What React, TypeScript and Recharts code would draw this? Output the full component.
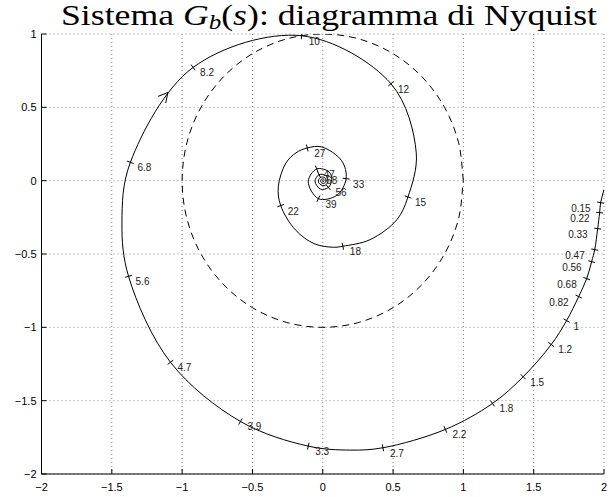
import React from 'react';
import { ComposedChart, Line, Scatter, XAxis, YAxis, CartesianGrid } from 'recharts';

const W = 613;
const H = 497;

// Nyquist curve of G_b(s), from low to high frequency
const curveRe = [
  2.0, 1.976, 1.969, 1.955, 1.934, 1.912, 1.877, 1.82, 1.734, 1.625,
  1.425, 1.207, 0.872, 0.428, 0.195, -0.103, -0.585, -1.083, -1.381, -1.428,
  -1.368, -0.922, -0.15, 0.485, 0.665, 0.606, 0.527, 0.337, 0.143, 0.076,
  -0.06, -0.195, -0.299, -0.316, -0.262, -0.19, -0.11, -0.007, 0.135, 0.166,
  0.1, -0.031, -0.103, -0.043, 0.045, 0.064, 0.04, -0.015, -0.055, -0.026,
  0.02, 0.038, 0.01, -0.03, -0.018, 0.015, 0.022, 0.0, -0.016, -0.005,
  0.01, 0.005, -0.003, 0.0,
];
const curveIm = [
  -0.06, -0.15, -0.218, -0.327, -0.47, -0.552, -0.668, -0.79, -0.954, -1.117,
  -1.337, -1.519, -1.696, -1.821, -1.837, -1.81, -1.642, -1.238, -0.652, -0.288,
  0.125, 0.772, 0.988, 0.661, 0.189, -0.111, -0.266, -0.402, -0.447, -0.454,
  -0.43, -0.335, -0.17, -0.039, 0.12, 0.19, 0.223, 0.23, 0.135, 0.014,
  -0.1, -0.123, -0.005, 0.08, 0.06, 0.007, -0.046, -0.058, -0.005, 0.041,
  0.035, -0.005, -0.035, -0.012, 0.022, 0.02, -0.008, -0.02, -0.002, 0.012,
  0.006, -0.006, -0.002, 0.0,
];
// frequency labels (rad/s) at the marked points, '' = no mark
const curveW = [
  '', '0.15', '0.22', '0.33', '0.47', '0.56', '0.68', '0.82', '1', '1.2',
  '1.5', '1.8', '2.2', '2.7', '', '3.3', '3.9', '4.7', '5.6', '',
  '6.8', '8.2', '10', '12', '', '15', '', '', '18', '',
  '', '', '22', '', '', '', '27', '', '', '33',
  '', '39', '', '47', '', '', '56', '', '', '68',
  '', '', '', '', '', '', '', '', '', '',
  '', '', '', '',
];
// direction arrow sits on the curve between 6.8 and 8.2
const arrowAt = [{ x: -1.112, y: 0.586 }];

// unit circle
const circleRe = [1, 0.966, 0.866, 0.707, 0.5, 0.259, 0, -0.259, -0.5, -0.707, -0.866, -0.966, -1,
  -0.966, -0.866, -0.707, -0.5, -0.259, 0, 0.259, 0.5, 0.707, 0.866, 0.966, 1];
const circleIm = [0, 0.259, 0.5, 0.707, 0.866, 0.966, 1, 0.966, 0.866, 0.707, 0.5, 0.259, 0,
  -0.259, -0.5, -0.707, -0.866, -0.966, -1, -0.966, -0.866, -0.707, -0.5, -0.259, 0];

const xTicks = [-2, -1.5, -1, -0.5, 0, 0.5, 1, 1.5, 2];
const yTicks = [-2, -1.5, -1, -0.5, 0, 0.5, 1];

const curve = curveRe.map((x, i) => ({ x, y: curveIm[i] }));
const circle = circleRe.map((x, i) => ({ x, y: circleIm[i] }));

// approx px per unit, only used to orient the little marks
const PX = 140.6;
const PY = 146.7;
const marks = curve
  .map((p, i) => {
    const a = curve[i - 1] || p;
    const b = curve[i + 1] || p;
    const ax = (p.x - a.x) * PX, ay = -(p.y - a.y) * PY;
    const bx = (b.x - p.x) * PX, by = -(b.y - p.y) * PY;
    const la = Math.hypot(ax, ay) || 1, lb = Math.hypot(bx, by) || 1;
    const dx = ax / la + bx / lb, dy = ay / la + by / lb;
    const len = Math.hypot(dx, dy) || 1;
    return { ...p, w: curveW[i], nx: -dy / len, ny: dx / len };
  })
  .filter((p) => p.w);

// centripetal Catmull-Rom, so the spiral passes smoothly through the read points
function catmullRom(context: any) {
  let pts: number[][] = [];
  return {
    areaStart() {},
    areaEnd() {},
    lineStart() {
      pts = [];
    },
    point(x: number, y: number) {
      pts.push([+x, +y]);
    },
    lineEnd() {
      const n = pts.length;
      if (!n) return;
      context.moveTo(pts[0][0], pts[0][1]);
      for (let i = 0; i < n - 1; i++) {
        const p0 = pts[i - 1] || pts[i];
        const p1 = pts[i];
        const p2 = pts[i + 1];
        const p3 = pts[i + 2] || p2;
        const d01 = Math.hypot(p1[0] - p0[0], p1[1] - p0[1]);
        const d12 = Math.hypot(p2[0] - p1[0], p2[1] - p1[1]);
        const d23 = Math.hypot(p3[0] - p2[0], p3[1] - p2[1]);
        const l01a = Math.sqrt(d01), l12a = Math.sqrt(d12), l23a = Math.sqrt(d23);
        let c1x = p1[0], c1y = p1[1], c2x = p2[0], c2y = p2[1];
        if (l01a > 1e-9) {
          const a = 2 * d01 + 3 * l01a * l12a + d12;
          const m = 3 * l01a * (l01a + l12a);
          c1x = (p1[0] * a - p0[0] * d12 + p2[0] * d01) / m;
          c1y = (p1[1] * a - p0[1] * d12 + p2[1] * d01) / m;
        } else {
          c1x = p1[0] + (p2[0] - p1[0]) / 3;
          c1y = p1[1] + (p2[1] - p1[1]) / 3;
        }
        if (l23a > 1e-9) {
          const b = 2 * d23 + 3 * l23a * l12a + d12;
          const m = 3 * l23a * (l23a + l12a);
          c2x = (p2[0] * b + p1[0] * d23 - p3[0] * d12) / m;
          c2y = (p2[1] * b + p1[1] * d23 - p3[1] * d12) / m;
        } else {
          c2x = p2[0] - (p2[0] - p1[0]) / 3;
          c2y = p2[1] - (p2[1] - p1[1]) / 3;
        }
        context.bezierCurveTo(c1x, c1y, c2x, c2y, p2[0], p2[1]);
      }
    },
  };
}

const FONT = '"Liberation Sans", Arial, Helvetica, sans-serif';
const PLOT_RIGHT = W - 9;

const fmt = (v: number) => (v < 0 ? '\u2212' + Math.abs(v) : String(v));

const BottomTick = (p: any) => (
  <g>
    <line x1={p.x} x2={p.x} y1={p.y} y2={p.y - 5} stroke="#000" />
    <text x={p.x} y={p.y + 17} textAnchor="middle" fontSize={11} fontFamily={FONT} fill="#000">
      {fmt(p.payload.value)}
    </text>
  </g>
);
const TopTick = (p: any) => <line x1={p.x} x2={p.x} y1={p.y} y2={p.y + 5} stroke="#000" />;
const LeftTick = (p: any) => (
  <g>
    <line x1={p.x} x2={p.x + 5} y1={p.y} y2={p.y} stroke="#000" />
    <text x={p.x - 5} y={p.y + 4} textAnchor="end" fontSize={11} fontFamily={FONT} fill="#000">
      {fmt(p.payload.value)}
    </text>
  </g>
);
const RightTick = (p: any) => <line x1={p.x} x2={p.x - 5} y1={p.y} y2={p.y} stroke="#000" />;

const MarkShape = (p: any) => {
  const { cx, cy, payload } = p;
  const r = 3.5;
  const labelW = payload.w.length * 5.6;
  const flip = cx + 8 + labelW > PLOT_RIGHT;
  return (
    <g>
      <line
        x1={cx - payload.nx * r}
        y1={cy - payload.ny * r}
        x2={cx + payload.nx * r}
        y2={cy + payload.ny * r}
        stroke="#000"
      />
      <text
        x={flip ? cx - 10 : cx + 7}
        y={cy + 9}
        textAnchor={flip ? 'end' : 'start'}
        fontSize={10}
        fontFamily={FONT}
        fill="#222"
      >
        {payload.w}
      </text>
    </g>
  );
};

const ArrowShape = (p: any) => {
  const { cx, cy } = p;
  return (
    <polyline
      points={`${cx - 8.4},${cy + 1.7} ${cx + 1.6},${cy - 2.3} ${cx - 0.7},${cy + 8.3}`}
      fill="none"
      stroke="#000"
    />
  );
};

export default function App() {
  return (
    <div style={{ position: 'absolute', left: 0, top: 0, width: W, height: H, background: '#fff' }}>
      <ComposedChart width={W} height={H} margin={{ top: 34, right: 9, bottom: 0, left: 0 }}>
        <CartesianGrid stroke="#888" strokeDasharray="1 3" />
        <XAxis
          type="number"
          dataKey="x"
          domain={[-2, 2]}
          ticks={xTicks}
          interval={0}
          height={23}
          tickSize={0}
          tickMargin={0}
          tickLine={false}
          tick={BottomTick}
          axisLine={{ stroke: '#000' }}
          allowDataOverflow
        />
        <XAxis
          xAxisId="top"
          orientation="top"
          type="number"
          dataKey="x"
          domain={[-2, 2]}
          ticks={xTicks}
          interval={0}
          height={0}
          tickSize={0}
          tickMargin={0}
          tickLine={false}
          tick={TopTick}
          axisLine={{ stroke: '#000' }}
          allowDataOverflow
        />
        <YAxis
          type="number"
          dataKey="y"
          domain={[-2, 1]}
          ticks={yTicks}
          interval={0}
          width={41.5}
          tickSize={0}
          tickMargin={0}
          tickLine={false}
          tick={LeftTick}
          axisLine={{ stroke: '#000' }}
          allowDataOverflow
        />
        <YAxis
          yAxisId="right"
          orientation="right"
          type="number"
          dataKey="y"
          domain={[-2, 1]}
          ticks={yTicks}
          interval={0}
          width={0}
          tickSize={0}
          tickMargin={0}
          tickLine={false}
          tick={RightTick}
          axisLine={{ stroke: '#000' }}
          allowDataOverflow
        />
        <Line
          data={circle}
          dataKey="y"
          type={catmullRom as any}
          stroke="#000"
          strokeWidth={1}
          strokeDasharray="7 5"
          dot={false}
          activeDot={false}
          isAnimationActive={false}
        />
        <Line
          data={curve}
          dataKey="y"
          type={catmullRom as any}
          stroke="#000"
          strokeWidth={1}
          dot={false}
          activeDot={false}
          isAnimationActive={false}
        />
        <Scatter data={marks} dataKey="y" shape={MarkShape} isAnimationActive={false} />
        <Scatter data={arrowAt} dataKey="y" shape={ArrowShape} isAnimationActive={false} />
      </ComposedChart>
      <svg width={W} height={40} style={{ position: 'absolute', left: 0, top: 0, pointerEvents: 'none' }}>
        <text
          x={329}
          y={24.5}
          textAnchor="middle"
          fontFamily='"Liberation Serif", "Times New Roman", serif'
          fontSize={30}
          textLength={536}
          lengthAdjust="spacingAndGlyphs"
          fill="#000"
        >
          Sistema <tspan fontStyle="italic">G</tspan>
          <tspan fontStyle="italic" fontSize={21} dy={4}>b</tspan>
          <tspan dy={-4}>(</tspan>
          <tspan fontStyle="italic">s</tspan>): diagramma di Nyquist
        </text>
      </svg>
    </div>
  );
}
